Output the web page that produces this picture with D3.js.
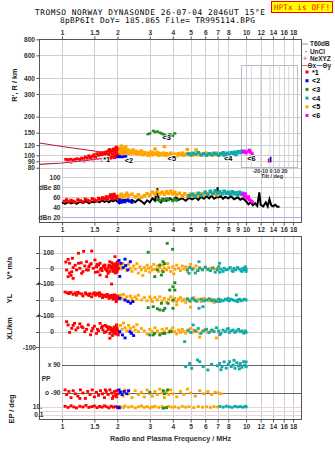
<!DOCTYPE html>
<html>
<head>
<meta charset="utf-8">
<script src="https://cdn.jsdelivr.net/npm/d3@7"></script>
<style>
  body { margin: 0; background: #fff; }
  svg text { font-family: "Liberation Sans", Arial, sans-serif; fill: #222; }
  .mono { font-family: "DejaVu Sans Mono", monospace; }
</style>
</head>
<body>
<svg id="chart" width="335" height="451"></svg>
<script>
// ---- axis ticks ----
const freqTicks = [1, 1.5, 2, 3, 4, 5, 6, 7, 8, 10, 12, 14, 16, 18];
const midTicks = [1, 1.5, 2, 3, 4, 5, 6, 7, 8, 9, 10, 12, 14, 16, 18];
const heightTicks = [80, 90, 100, 120, 150, 200, 300, 400, 600, 800];
const dbTicks = [20, 40, 60, 80, 100];
const dbLabels = ["dBn 20", "40", "60", "dBe 80", "100"];

// ---- virtual height R' (MHz, km) ----
const hRed = [[1.05,93],[1.08,92],[1.11,93],[1.14,92],[1.18,93],[1.21,94],[1.25,93],[1.28,95],[1.31,94],[1.34,97],[1.37,95],[1.40,99],[1.43,96],[1.46,98],[1.49,101],[1.52,97],[1.55,103],[1.58,100],[1.61,104],[1.64,101],[1.67,105],[1.70,102],[1.73,106],[1.76,103],[1.78,108],[1.80,100],[1.83,105],[1.85,109],[1.87,97],[1.88,102],[1.90,112],[1.92,106],[1.94,99],[1.95,110],[1.97,104],[1.98,116],[2.00,101],[2.01,108],[2.03,112],[2.05,104],[1.93,96],[1.96,114],[1.99,98],[1.89,108],[1.84,95],[1.81,111]];
const hBlue = [[2.01,97],[2.04,98],[2.07,97],[2.10,98],[2.14,97],[2.18,99],[2.22,98]];
const hGreen = [[2.93,146],[3.0,148],[3.13,155],[3.3,153],[3.47,148],[3.62,144],[3.85,146],[4.0,142],[4.1,148],[3.2,152],[3.4,150],[3.55,146],[3.7,141]];
const hTeal = [[4.85,103],[5.0,101],[5.15,104],[5.3,102],[5.5,105],[5.7,101],[5.9,103],[6.1,100],[6.3,103],[6.5,101],[6.7,104],[6.9,102],[7.1,100],[7.3,103],[7.5,105],[7.7,102],[7.9,104],[8.1,101],[8.3,105],[8.5,103],[8.7,106],[8.9,104],[9.1,107],[9.3,105],[9.5,108],[9.7,106],[7.6,100],[8.8,101]];
const hOrange = [[2.06,106],[2.08,112],[2.1,118],[2.12,108],[2.14,103],[2.16,114],[2.18,110],[2.2,106],[2.22,116],[2.25,104],[2.28,110],[2.31,107],[2.34,103],[2.37,108],[2.4,105],[2.44,110],[2.48,104],[2.52,107],[2.56,102],[2.6,106],[2.65,103],[2.7,108],[2.75,101],[2.8,105],[2.85,102],[2.9,104],[2.95,100],[3.0,103],[3.05,106],[3.1,101],[3.15,104],[3.2,112],[3.25,102],[3.3,105],[3.35,100],[3.4,103],[3.5,101],[3.55,104],[3.6,117],[3.65,100],[3.7,103],[3.8,101],[3.9,104],[4.0,100],[4.1,102],[4.2,99],[4.3,103],[4.4,101],[4.5,104],[4.6,100],[4.7,102],[4.8,111],[4.9,101],[5.0,103],[5.1,100],[5.2,102],[5.35,110],[5.45,101],[5.6,103],[5.75,100],[5.9,102],[6.05,104],[6.2,101],[6.4,103],[6.6,100],[6.8,102],[7.0,104],[7.2,101]];
const hMagenta = [[9.6,106],[9.8,108],[10.0,104],[10.2,107],[10.4,110],[10.6,105],[10.8,103],[10.5,108]];
const modelUpper = [[0.755,124.5],[1.0,117],[1.5,108],[2.0,101.5]];
const modelLower = [[0.755,85],[1.0,87],[1.25,90],[1.5,93],[1.75,95.5]];
const neMarks = [[1.12,88.2],[1.32,90.3],[1.48,91.4],[1.64,92.4]];
const traceTags = [["*1",1.75,92.5],["<2",2.31,92],["<3",3.7,137],["<5",3.95,94.7],["<4",8.0,95],["<6",10.7,95]];
// tilt bars: [tilt deg, h from, h to]
const tiltX = [[-1.5, 87.6, 94.8]];
const tiltY = [[0.7, 88.2, 97.5]];

// ---- amplitude dBe ----
const dbNoise = [[1.00,50],[1.04,47],[1.08,51],[1.12,48],[1.16,50],[1.2,47],[1.25,51],[1.3,49],[1.35,52],[1.4,48],[1.45,51],[1.5,50],[1.55,53],[1.6,50],[1.65,54],[1.7,51],[1.75,53],[1.8,50],[1.85,54],[1.9,52],[1.95,55],[2.0,51],[2.05,48],[2.1,54],[2.15,51],[2.2,55],[2.3,52],[2.4,55],[2.5,50],[2.6,56],[2.7,52],[2.8,47],[2.9,54],[3.0,50],[3.1,58],[3.2,53],[3.3,78],[3.35,55],[3.45,50],[3.55,57],[3.7,53],[3.85,58],[4.0,54],[4.15,60],[4.3,55],[4.5,58],[4.7,53],[4.9,59],[5.1,56],[5.3,60],[5.5,55],[5.7,61],[5.9,57],[6.1,62],[6.3,58],[6.5,63],[6.7,57],[6.9,60],[7.0,80],[7.1,60],[7.3,62],[7.5,57],[7.7,61],[8.0,58],[8.3,62],[8.6,56],[9.0,60],[9.3,55],[9.6,58],[10.0,52],[10.3,46],[10.6,50],[10.9,44],[11.2,48],[11.5,43],[11.8,70],[12.0,45],[12.4,42],[12.8,50],[13.1,42],[13.4,56],[13.7,44],[14.0,42],[14.4,45],[14.8,41],[15.2,41]];
const dbRed = [[1.03,52],[1.06,55],[1.09,51],[1.12,54],[1.15,52],[1.18,50],[1.22,55],[1.26,53],[1.3,51],[1.34,56],[1.38,54],[1.42,52],[1.46,57],[1.5,55],[1.54,53],[1.58,58],[1.62,56],[1.66,59],[1.7,57],[1.74,61],[1.78,58],[1.82,62],[1.86,60],[1.9,64],[1.94,61],[1.97,58],[2.0,62],[2.02,59],[1.88,57],[1.76,55],[1.92,66],[1.84,65]];
const dbBlue = [[2.03,52],[2.06,55],[2.1,50],[2.15,54],[2.2,51],[2.28,55],[2.35,52],[2.4,50]];
const dbGreen = [[3.3,55],[3.4,53],[3.5,56],[3.6,54],[3.7,57],[3.8,55],[4.0,53],[4.1,56],[4.2,54]];
const dbTeal = [[4.9,63],[5.1,66],[5.3,62],[5.5,68],[5.7,64],[6.0,70],[6.2,66],[6.4,72],[6.6,68],[6.8,73],[7.0,69],[7.2,71],[7.4,67],[7.6,72],[7.8,68],[8.0,70],[8.2,66],[8.4,71],[8.6,67],[8.8,69],[9.0,65],[9.2,70],[9.4,66],[9.6,68]];
const dbOrange = [[2.06,62],[2.1,66],[2.15,60],[2.2,64],[2.25,68],[2.3,63],[2.4,66],[2.5,61],[2.6,65],[2.7,60],[2.8,63],[2.9,67],[3.0,64],[3.1,70],[3.2,66],[3.3,72],[3.4,67],[3.5,70],[3.6,66],[3.7,71],[3.8,68],[3.9,72],[4.0,67],[4.1,70],[4.2,65],[4.35,68],[4.5,63],[4.65,67],[4.8,62],[4.95,66],[5.1,63],[5.25,66],[5.4,62],[5.55,65],[5.7,67],[5.85,64],[6.0,68],[6.2,66],[6.4,70],[6.6,67],[6.8,69],[7.0,65]];
const dbMagenta = [[9.6,66],[9.8,63],[10.0,60],[10.2,58],[10.4,55],[10.6,53],[10.8,51],[9.9,67],[10.3,61]];

// ---- V* (m/s) ----
const vRed = [[1.08,57],[1.10,32],[1.06,-11],[1.13,-22],[1.08,-53],[1.15,-64],[1.14,64],[1.23,32],[1.25,0],[1.28,-32],[1.23,96],[1.31,108],[1.45,110],[1.36,42],[1.42,21],[1.39,-11],[1.51,53],[1.54,10],[1.57,-22],[1.61,32],[1.64,0],[1.71,21],[1.75,-11],[1.78,-32],[1.82,42],[1.86,10],[1.86,-100],[1.9,-11],[1.94,74],[1.98,21],[2.02,0],[1.94,-22],[1.75,-53],[1.61,-43],[1.85,15],[1.88,-5],[1.9,25],[1.92,5],[1.94,-15],[1.96,30],[1.98,10],[2.0,-10],[2.02,20],[2.04,0],[1.95,-30],[1.87,35],[2.0,40],[1.82,-20],[1.78,5],[1.72,-5],[1.68,15],[1.65,-15],[1.58,20],[1.48,0],[1.44,30],[1.33,15],[1.3,-20],[1.2,-10],[1.18,20],[1.1,-30],[1.05,40],[1.9,-20],[1.93,15],[1.97,-5],[2.01,25],[1.99,-25],[1.84,0],[1.8,20],[1.76,-15],[1.7,10],[1.62,-5],[1.55,25],[1.52,-25],[1.4,10],[1.36,-10],[1.27,35],[1.15,5],[1.12,-45]];
const vBlue = [[2.04,50],[2.09,32],[2.20,58],[2.22,18],[2.06,-52],[2.35,42],[2.15,5],[2.28,-10]];
const vGreen = [[2.94,102],[3.73,159],[3.99,121],[3.54,42],[3.40,21],[3.54,-22],[3.19,-53],[3.47,-43],[3.6,30],[3.3,-10]];
const vTeal = [[4.8,-10],[4.95,5],[5.1,-5],[5.3,-30],[5.55,42],[5.45,-15],[5.6,0],[5.8,-10],[6.0,5],[6.2,-5],[6.4,-15],[6.6,0],[6.8,-25],[7.0,-10],[7.18,32],[7.1,10],[7.3,-5],[7.5,-20],[7.6,0],[7.8,-10],[8.0,-5],[8.2,5],[8.4,-15],[8.6,0],[8.8,-10],[9.0,5],[9.2,-5],[9.4,-15],[9.6,0],[9.8,-10],[10.0,-5],[10.0,-20],[9.9,10],[7.2,-25],[8.5,-20],[9.5,-20],[4.9,-32]];
const vOrange = [[2.08,20],[2.12,-5],[2.15,30],[2.2,10],[2.25,-15],[2.3,25],[2.35,0],[2.4,-20],[2.45,15],[2.5,-5],[2.55,30],[2.6,-30],[2.65,10],[2.7,-10],[2.75,-45],[2.8,5],[2.85,-15],[2.9,20],[2.95,0],[3.0,-25],[3.05,10],[3.1,-10],[3.15,25],[3.2,-5],[3.3,15],[3.35,-20],[3.4,5],[3.5,-15],[3.55,20],[3.6,0],[3.7,-10],[3.75,30],[3.8,5],[3.9,-20],[4.0,10],[4.05,-35],[4.1,-5],[4.2,20],[4.3,0],[4.4,-15],[4.5,15],[4.6,-5],[4.7,10],[4.8,-20],[4.9,5],[5.0,25],[5.1,-10],[5.2,0],[5.35,15],[5.5,-15],[5.6,5],[5.8,-5],[6.0,10],[6.2,-10],[6.4,0],[6.6,5],[6.8,-5],[7.0,0]];

// ---- YL (km) ----
const ylRed = [[1.04,50],[1.07,45],[1.09,40],[1.12,48],[1.15,35],[1.18,45],[1.2,30],[1.24,42],[1.28,38],[1.3,25],[1.34,45],[1.38,35],[1.42,40],[1.45,20],[1.48,38],[1.52,30],[1.56,42],[1.6,25],[1.63,35],[1.66,15],[1.7,30],[1.73,20],[1.76,35],[1.8,10],[1.83,28],[1.86,15],[1.88,30],[1.9,5],[1.92,22],[1.94,12],[1.96,28],[1.98,0],[2.0,18],[2.02,8],[2.05,25],[1.97,-10],[1.6,45],[1.4,28],[1.85,22],[1.89,12],[1.93,32],[1.95,18],[1.99,10],[2.03,20],[1.78,25],[1.68,28],[1.57,35],[1.5,45],[1.35,38],[1.22,48],[1.1,45]];
const ylBlue = [[2.06,10],[2.28,-10],[2.36,-20],[2.42,-10],[2.2,0]];
const ylGreen = [[2.94,-48],[3.13,-42],[3.47,-21],[3.77,-21],[4.01,0],[3.40,-62],[3.62,-52],[4.01,-52],[4.10,108],[4.10,62],[4.01,83],[3.85,62],[3.3,-55],[3.55,-65]];
const ylTeal = [[4.8,5],[4.95,-5],[5.1,10],[5.25,0],[5.4,-8],[5.55,-52],[5.7,5],[5.83,-42],[5.9,-5],[6.1,0],[6.3,8],[6.5,-5],[6.7,0],[6.9,-10],[7.1,5],[7.3,0],[7.5,-5],[7.7,5],[7.9,0],[8.1,-5],[8.3,5],[8.5,0],[8.7,-5],[8.85,31],[9.0,0],[9.2,5],[9.4,-5],[9.6,0],[9.8,5],[10.0,0],[7.2,-10],[8.0,10],[9.0,-10]];
const ylOrange = [[2.08,30],[2.12,10],[2.16,35],[2.2,0],[2.25,20],[2.3,-5],[2.35,25],[2.4,10],[2.45,-10],[2.5,20],[2.55,5],[2.6,30],[2.7,0],[2.8,15],[2.9,-5],[3.0,20],[3.05,5],[3.1,-10],[3.2,15],[3.3,0],[3.4,20],[3.5,-5],[3.6,10],[3.7,-15],[3.8,5],[3.9,20],[4.0,-5],[4.1,10],[4.2,-10],[4.3,5],[4.4,15],[4.5,-5],[4.6,5],[4.7,-15],[4.8,10],[4.9,0],[5.0,-10],[5.1,5],[5.2,15],[5.3,-5],[5.5,5],[5.7,-10],[5.9,10],[6.1,0],[6.3,-5],[6.5,5],[6.7,-15],[6.9,0],[7.1,5],[5.0,-45],[4.2,-30]];

// ---- XL (km) ----
const xlRed = [[1.06,64],[1.08,43],[1.13,21],[1.17,53],[1.19,11],[1.28,32],[1.33,0],[1.39,43],[1.47,21],[1.54,-11],[1.61,53],[1.67,11],[1.75,32],[1.82,-11],[1.90,11],[1.98,43],[2.02,-21],[1.82,-42],[1.1,-5],[1.22,25],[1.36,15],[1.43,-20],[1.5,35],[1.58,5],[1.64,25],[1.7,-5],[1.78,15],[1.85,25],[1.87,0],[1.92,-10],[1.95,20],[1.97,5],[2.0,10],[2.04,-5],[1.93,30],[1.88,-25],[1.72,40],[1.25,50],[1.89,15],[1.91,-5],[1.94,5],[1.96,-15],[1.99,25],[2.01,0],[1.84,10],[1.8,30],[1.74,0],[1.66,35],[1.56,15],[1.45,5],[1.3,25],[1.15,40]];
const xlBlue = [[2.06,0],[2.13,-21],[2.34,0],[2.38,-11],[2.2,-40],[2.45,-25]];
const xlGreen = [[3.0,-21],[3.19,-11],[3.40,-21],[3.62,-11],[3.92,0],[3.13,-21],[3.53,-11],[3.85,0]];
const xlTeal = [[4.64,-64],[4.85,10],[5.0,-5],[5.16,43],[5.3,5],[5.5,20],[5.7,-10],[5.9,5],[6.1,15],[6.3,-5],[6.5,10],[6.7,0],[6.9,25],[7.1,5],[7.3,-10],[7.5,10],[7.7,0],[7.9,15],[8.1,-5],[8.3,5],[8.5,10],[8.7,-5],[8.9,5],[9.1,15],[9.3,0],[9.5,5],[9.7,-10],[9.9,5],[10.0,-5],[7.2,-20],[8.0,20]];
const xlOrange = [[2.08,40],[2.12,15],[2.16,55],[2.2,25],[2.25,5],[2.3,40],[2.35,20],[2.4,-5],[2.45,30],[2.5,10],[2.55,45],[2.6,0],[2.7,20],[2.8,5],[2.9,-15],[3.0,15],[3.1,0],[3.2,25],[3.3,5],[3.4,-10],[3.5,15],[3.6,0],[3.7,20],[3.8,-5],[3.9,10],[4.0,25],[4.1,0],[4.2,-15],[4.3,10],[4.4,-5],[4.5,15],[4.6,0],[4.7,-10],[4.8,5],[5.0,20],[5.1,-5],[5.2,10],[5.4,0],[5.6,-10],[5.8,5],[6.0,15],[6.2,-5],[6.4,0],[6.6,10],[6.9,-40],[7.1,-5],[5.6,-35]];

// ---- PP polarization (deg) ----
const ppRed = [[1.04,-70],[1.06,-100],[1.09,-80],[1.12,-120],[1.15,-75],[1.18,-95],[1.22,-110],[1.26,-70],[1.3,-90],[1.34,-125],[1.38,-80],[1.42,-100],[1.46,-70],[1.5,-115],[1.54,-85],[1.58,-105],[1.62,-75],[1.66,-95],[1.7,-120],[1.74,-80],[1.78,-100],[1.82,-70],[1.86,-90],[1.9,-110],[1.93,-80],[1.96,-100],[1.99,-75],[2.02,-95],[1.88,-125],[1.72,-70],[1.98,-115],[1.25,-125]];
const ppBlue = [[2.04,-70],[2.08,-85],[2.12,-100],[2.18,-80],[2.25,-95],[2.3,-75]];
const ppGreen = [[3.0,-85],[3.55,-75],[3.75,-70],[3.6,-95]];
const ppTeal = [[4.7,79],[4.94,100],[5.06,69],[5.45,122],[5.6,111],[5.85,79],[6.2,58],[6.5,95],[7.0,85],[7.18,100],[7.4,79],[7.6,110],[7.8,70],[8.0,95],[8.13,111],[8.3,80],[8.5,90],[8.7,69],[8.9,105],[9.1,85],[9.3,100],[9.5,75],[9.7,111],[9.85,90],[10.0,79],[10.0,110],[7.3,60],[8.6,120],[9.2,65]];
const ppOrange = [[2.1,-80],[2.15,-110],[2.2,-70],[2.3,-95],[2.4,-120],[2.5,-75],[2.6,-100],[2.7,-85],[2.8,-115],[2.9,-70],[3.0,-95],[3.1,-110],[3.2,-80],[3.3,-100],[3.4,-65],[3.5,-90],[3.6,-120],[3.7,-80],[3.8,-100],[3.9,-70],[4.0,-95],[4.2,-115],[4.4,-80],[4.6,-100],[4.8,-65],[5.0,-90],[5.3,-110],[5.6,-75],[5.9,-95],[6.2,-80],[6.5,-100],[6.8,-85],[7.1,-90],[7.3,-95]];

// ---- EP error (deg) ----
const epRed = [[1.04,15],[1.08,8],[1.12,20],[1.16,10],[1.2,6],[1.25,15],[1.3,10],[1.35,25],[1.4,8],[1.45,12],[1.5,18],[1.55,7],[1.6,14],[1.65,9],[1.7,20],[1.75,11],[1.8,6],[1.85,16],[1.9,9],[1.95,13],[2.0,7]];
const epBlue = [[2.02,10],[2.05,6]];
const epGreen = [[3.55,5],[3.7,7]];
const epTeal = [[7.2,14],[7.5,9],[7.8,16],[8.1,11],[8.4,8],[8.7,15],[9.0,10],[9.3,13],[9.6,9],[9.9,15],[10.0,11]];
const epOrange = [[2.08,12],[2.15,7],[2.2,18],[2.3,9],[2.4,14],[2.5,6],[2.6,11],[2.7,20],[2.8,8],[2.9,13],[3.0,6],[3.1,10],[3.2,16],[3.35,8],[3.5,12],[3.65,7],[3.8,15],[3.95,9],[4.1,11],[4.3,6],[4.5,14],[4.7,9],[4.9,12],[5.2,7],[5.5,13],[5.8,9],[6.1,11],[6.4,8],[6.7,12],[7.0,10]];

const C = { red: "#ff0000", blue: "#0000ff", green: "#228b22", teal: "#10a8a8", orange: "#ffa500", magenta: "#ff00ff" };
const legendItems = [["*1", C.red], ["<2", C.blue], ["<3", C.green], ["<4", C.teal], ["<5", C.orange], ["<6", C.magenta]];

// ---- scales ----
const x = d3.scaleLog().domain([0.755, 20]).range([39.5, 301.5]);
const yH = d3.scaleLog().domain([100, 800]).range([155.3, 39.3]);
const yDb = d3.scaleLinear().domain([20, 100]).range([217.3, 177.3]);
const yV = d3.scaleLinear().domain([-100, 100]).range([284, 252.6]);
const yYL = d3.scaleLinear().domain([-100, 100]).range([316, 284]);
const yXL = d3.scaleLinear().domain([-100, 100]).range([347.3, 316]);
const yPP = d3.scaleLinear().domain([-90, 90]).range([393, 365]);
const yEP = d3.scaleLog().domain([0.1, 10]).range([415, 407]);
const xTilt = d3.scaleLinear().domain([-30, 30]).range([242, 298]);

const svg = d3.select("#chart");
const top0 = 39.5, top1 = 222.5, low0 = 236.5, low1 = 419.5;
const left = 39.5, right = 301.5;
const grid = "#cfcfcf";

// ---- header ----
svg.append("text").attr("class", "mono").attr("x", 35).attr("y", 15.3)
  .attr("font-size", 7.8).attr("textLength", 230).attr("lengthAdjust", "spacing")
  .style("fill", "#000").text("TROMSO NORWAY   DYNASONDE 26-07-04 2046UT 15°E");
svg.append("text").attr("class", "mono").attr("x", 60).attr("y", 22.8)
  .attr("font-size", 7.8).attr("textLength", 195).attr("lengthAdjust", "spacing")
  .style("fill", "#000").text("8pBP6It DoY= 185.865 File= TR995114.BPG");
svg.append("rect").attr("x", 271.5).attr("y", 1.5).attr("width", 61).attr("height", 11)
  .attr("fill", "#ffff00").attr("stroke", "#ff0000");
svg.append("text").attr("class", "mono").attr("x", 302).attr("y", 10).attr("text-anchor", "middle")
  .attr("font-size", 7.6).attr("textLength", 56).attr("lengthAdjust", "spacing")
  .style("fill", "#ff0000").text("HPTx is OFF!");

// ---- grids ----
const gGrid = svg.append("g").attr("stroke-width", 1).attr("shape-rendering", "crispEdges");
[[top0, top1], [low0, low1]].forEach(([a, b]) => {
  gGrid.selectAll(null).data(freqTicks).join("line")
    .attr("x1", d => Math.round(x(d)) + 0.5).attr("x2", d => Math.round(x(d)) + 0.5)
    .attr("y1", a).attr("y2", b).attr("stroke", grid);
});
gGrid.selectAll(null).data(heightTicks).join("line")
  .attr("x1", left).attr("x2", right)
  .attr("y1", d => Math.round(yH(d)) + 0.5).attr("y2", d => Math.round(yH(d)) + 0.5)
  .attr("stroke", grid);
gGrid.selectAll(null).data(dbTicks).join("line")
  .attr("x1", x(1)).attr("x2", right)
  .attr("y1", d => Math.round(yDb(d)) + 0.5).attr("y2", d => Math.round(yDb(d)) + 0.5)
  .attr("stroke", d => d === 20 ? "#aab0e0" : grid);

const lowerRows = [[yV, 100, "100", 54], [yV, 0, "0", 54], [yV, -100, "+-100", 54],
  [yYL, 0, "0", 54], [yYL, -100, "+-100", 54], [yXL, 0, "0", 54], [yXL, -100, "-100", 36]];
lowerRows.forEach(([s, v]) => {
  const yy = Math.round(s(v)) + 0.5;
  gGrid.append("line").attr("x1", left).attr("x2", right).attr("y1", yy).attr("y2", yy).attr("stroke", grid);
  gGrid.append("line").attr("x1", 36).attr("x2", left).attr("y1", yy).attr("y2", yy).attr("stroke", "#555");
});
[10, 1, 0.1].forEach(v => {
  const yy = Math.round(yEP(v)) + 0.5;
  gGrid.append("line").attr("x1", left).attr("x2", right).attr("y1", yy).attr("y2", yy).attr("stroke", "#e6d6dc");
});
[90, -90].forEach(v => {
  const yy = Math.round(yPP(v)) + 0.5;
  gGrid.append("line").attr("x1", x(1)).attr("x2", right).attr("y1", yy).attr("y2", yy).attr("stroke", "#666");
});

// ---- frames ----
svg.append("rect").attr("x", left).attr("y", top0).attr("width", right - left).attr("height", top1 - top0)
  .attr("fill", "none").attr("stroke", "#555").attr("shape-rendering", "crispEdges");
svg.append("rect").attr("x", left).attr("y", low0).attr("width", right - left).attr("height", low1 - low0)
  .attr("fill", "none").attr("stroke", "#555").attr("shape-rendering", "crispEdges");

// ---- frequency axes ----
const fmt = d => String(d);
function freqAxis(gen, ticks, yPos) {
  const g = svg.append("g").attr("transform", `translate(0,${yPos})`)
    .call(gen(x).tickValues(ticks).tickFormat(fmt).tickSize(3).tickPadding(1.5));
  g.select(".domain").remove();
  g.selectAll("line").attr("stroke", "#555");
  g.selectAll("text").attr("font-size", 6.6).style("font-weight", "bold").style("fill", "#333")
    .attr("font-family", "Liberation Sans, Arial, sans-serif");
  return g;
}
freqAxis(d3.axisTop, freqTicks, top0);
freqAxis(d3.axisBottom, midTicks, top1);
freqAxis(d3.axisBottom, freqTicks, low1);

// height axis
const gH = svg.append("g").attr("transform", `translate(${left},0)`)
  .call(d3.axisLeft(yH).tickValues(heightTicks).tickFormat(fmt).tickSize(3).tickPadding(1.5));
gH.select(".domain").remove();
gH.selectAll("line").attr("stroke", "#555");
gH.selectAll("text").attr("font-size", 6.6).style("font-weight", "bold").style("fill", "#333");

// dB labels
svg.selectAll(null).data(dbTicks).join("text")
  .attr("x", 60.5).attr("y", d => yDb(d)).attr("dy", "0.35em").attr("text-anchor", "end")
  .attr("font-size", 6.6).style("font-weight", "bold").style("fill", "#333")
  .text((d, i) => dbLabels[i]);

// lower labels
lowerRows.forEach(([s, v, t, xe]) => {
  svg.append("text").attr("x", xe).attr("y", s(v)).attr("dy", "0.35em").attr("text-anchor", "end")
    .attr("font-size", 6.6).style("font-weight", "bold").style("fill", "#333").text(t);
});
[[yPP(90), "x  90", 60.5], [yPP(0), "PP", 50.5], [yPP(-90), "o -90", 60.5], [yEP(10), "10.", 42], [yEP(0.1), "0.1", 43.5]]
  .forEach(([yy, t, xe]) => {
    svg.append("text").attr("x", xe).attr("y", yy).attr("dy", "0.35em").attr("text-anchor", "end")
      .attr("font-size", 6.6).style("font-weight", "bold").style("fill", "#333").text(t);
  });

// rotated titles
[["R', R / km", 14, 85], ["V* m/s", 9, 268], ["YL", 9, 298.5], ["/km", 9, 323.5], ["XL", 9, 335], ["EP / deg", 11, 409]]
  .forEach(([t, xx, yy]) => {
    svg.append("text").attr("transform", `translate(${xx},${yy}) rotate(-90)`)
      .attr("text-anchor", "middle").attr("dy", "0.35em").attr("font-size", 7.4)
      .style("font-weight", "bold").style("fill", "#222").text(t);
  });
svg.append("text").attr("x", 170.5).attr("y", 441).attr("text-anchor", "middle")
  .attr("font-size", 7.2).style("font-weight", "bold").style("fill", "#333")
  .text("Radio and Plasma Frequency / MHz");

// ---- tilt inset ----
const gT = svg.append("g");
gT.append("rect").attr("x", 241.5).attr("y", 65.5).attr("width", 56).attr("height", 102)
  .attr("fill", "none").attr("stroke", "#b8b8c8").attr("shape-rendering", "crispEdges");
[-20, -10, 0, 10, 20].forEach(v => {
  gT.append("line").attr("x1", xTilt(v)).attr("x2", xTilt(v)).attr("y1", 65.5).attr("y2", 167.5)
    .attr("stroke", "#d8d8e0");
});
gT.append("text").attr("x", 270).attr("y", 172.5).attr("text-anchor", "middle").attr("font-size", 5.4)
  .style("font-weight", "bold").style("fill", "#333").text("-20-10  0  10  20");
gT.append("text").attr("x", 272).attr("y", 177.8).attr("text-anchor", "middle").attr("font-size", 5.4)
  .style("font-weight", "bold").style("fill", "#333").text("Tilt / deg");
gT.selectAll(null).data(tiltX).join("rect")
  .attr("x", d => xTilt(d[0]) - 0.8).attr("width", 1.6)
  .attr("y", d => yH(d[2])).attr("height", d => yH(d[1]) - yH(d[2])).attr("fill", C.red);
gT.selectAll(null).data(tiltY).join("rect")
  .attr("x", d => xTilt(d[0]) - 0.8).attr("width", 1.6)
  .attr("y", d => yH(d[2])).attr("height", d => yH(d[1]) - yH(d[2])).attr("fill", C.blue);

// ---- marks ----
function dots(data, ys, color, w = 3, h = 2.8) {
  svg.append("g").selectAll("rect").data(data).join("rect")
    .attr("x", d => x(d[0]) - w / 2).attr("y", d => ys(d[1]) - h / 2)
    .attr("width", w).attr("height", h).attr("fill", color);
}

// model lines (R')
const lineH = d3.line().x(d => x(d[0])).y(d => yH(d[1]));
[modelUpper, modelLower].forEach(m => {
  svg.append("path").attr("d", lineH(m)).attr("fill", "none").attr("stroke", "#b81e40").attr("stroke-width", 1.1);
});
dots(hRed, yH, C.red, 3.2, 2.8);
dots(hBlue, yH, C.blue, 3, 2.4);
dots(hGreen, yH, C.green, 3, 2.4);
dots(hOrange, yH, C.orange, 3.6, 3.4);
dots(hTeal, yH, C.teal, 3.6, 3.2);
dots(hMagenta, yH, C.magenta, 3, 2.8);
svg.selectAll(null).data(neMarks).join("text")
  .attr("x", d => x(d[0])).attr("y", d => yH(d[1])).attr("dy", "0.35em").attr("text-anchor", "middle")
  .attr("font-size", 6).style("fill", "#ff5a9a").style("font-weight", "bold").text("1");
svg.selectAll(null).data(traceTags).join("text")
  .attr("x", d => x(d[1])).attr("y", d => yH(d[2])).attr("dy", "0.35em").attr("text-anchor", "middle")
  .attr("font-size", 7.4).style("font-weight", "bold").style("fill", "#000")
  .attr("stroke", "#fff").attr("stroke-width", 1.6).attr("paint-order", "stroke")
  .text(d => d[0]);

// amplitude
const lineDb = d3.line().x(d => x(d[0])).y(d => yDb(d[1]));
svg.append("path").attr("d", lineDb(dbNoise)).attr("fill", "none").attr("stroke", "#000").attr("stroke-width", 2);
dots(dbRed, yDb, C.red, 3.2, 3.2);
dots(dbBlue, yDb, C.blue, 3, 3);
dots(dbGreen, yDb, C.green, 3, 3);
dots(dbOrange, yDb, C.orange, 3.6, 3.6);
dots(dbTeal, yDb, C.teal, 3.6, 3.6);
dots(dbMagenta, yDb, C.magenta, 3.2, 3.2);

// lower panel
[[vRed, vBlue, vGreen, vOrange, vTeal, yV], [ylRed, ylBlue, ylGreen, ylOrange, ylTeal, yYL],
 [xlRed, xlBlue, xlGreen, xlOrange, xlTeal, yXL], [ppRed, ppBlue, ppGreen, ppOrange, ppTeal, yPP],
 [epRed, epBlue, epGreen, epOrange, epTeal, yEP]].forEach(([r, b, g, o, t, s]) => {
  dots(r, s, C.red);
  dots(o, s, C.orange);
  dots(b, s, C.blue);
  dots(g, s, C.green);
  dots(t, s, C.teal);
});

// ---- legend ----
const gL = svg.append("g").attr("font-size", 6.4).style("font-weight", "bold");
gL.append("line").attr("x1", 302).attr("x2", 308).attr("y1", 44).attr("y2", 44).attr("stroke", "#999");
gL.append("text").attr("x", 310).attr("y", 44).attr("dy", "0.35em").text("T60dB");
gL.append("text").attr("x", 306).attr("y", 51.5).attr("dy", "0.35em").attr("text-anchor", "middle").text("·");
gL.append("text").attr("x", 310).attr("y", 51.5).attr("dy", "0.35em").text("UnCl");
gL.append("text").attr("x", 305).attr("y", 58.5).attr("dy", "0.35em").attr("text-anchor", "middle")
  .style("fill", "#ff5a9a").text("+");
gL.append("text").attr("x", 310).attr("y", 58.5).attr("dy", "0.35em").text("NeXYZ");
gL.append("line").attr("x1", 302).attr("x2", 307).attr("y1", 65.5).attr("y2", 65.5).attr("stroke", "#ff6a6a");
gL.append("text").attr("x", 307.5).attr("y", 65.5).attr("dy", "0.35em").text("Θx");
gL.append("line").attr("x1", 316.5).attr("x2", 322).attr("y1", 65.5).attr("y2", 65.5).attr("stroke", "#6a6aff");
gL.append("text").attr("x", 322.5).attr("y", 65.5).attr("dy", "0.35em").text("Θy");
gL.selectAll("rect").data(legendItems).join("rect")
  .attr("x", 305.5).attr("y", (d, i) => 72 + i * 8.7 - 1.5).attr("width", 3).attr("height", 3)
  .attr("fill", d => d[1]);
gL.selectAll("text.li").data(legendItems).join("text").attr("class", "li")
  .attr("x", 312).attr("y", (d, i) => 72 + i * 8.7).attr("dy", "0.35em")
  .attr("font-size", 7.2).style("fill", "#000").text(d => d[0]);
</script>
</body>
</html>
